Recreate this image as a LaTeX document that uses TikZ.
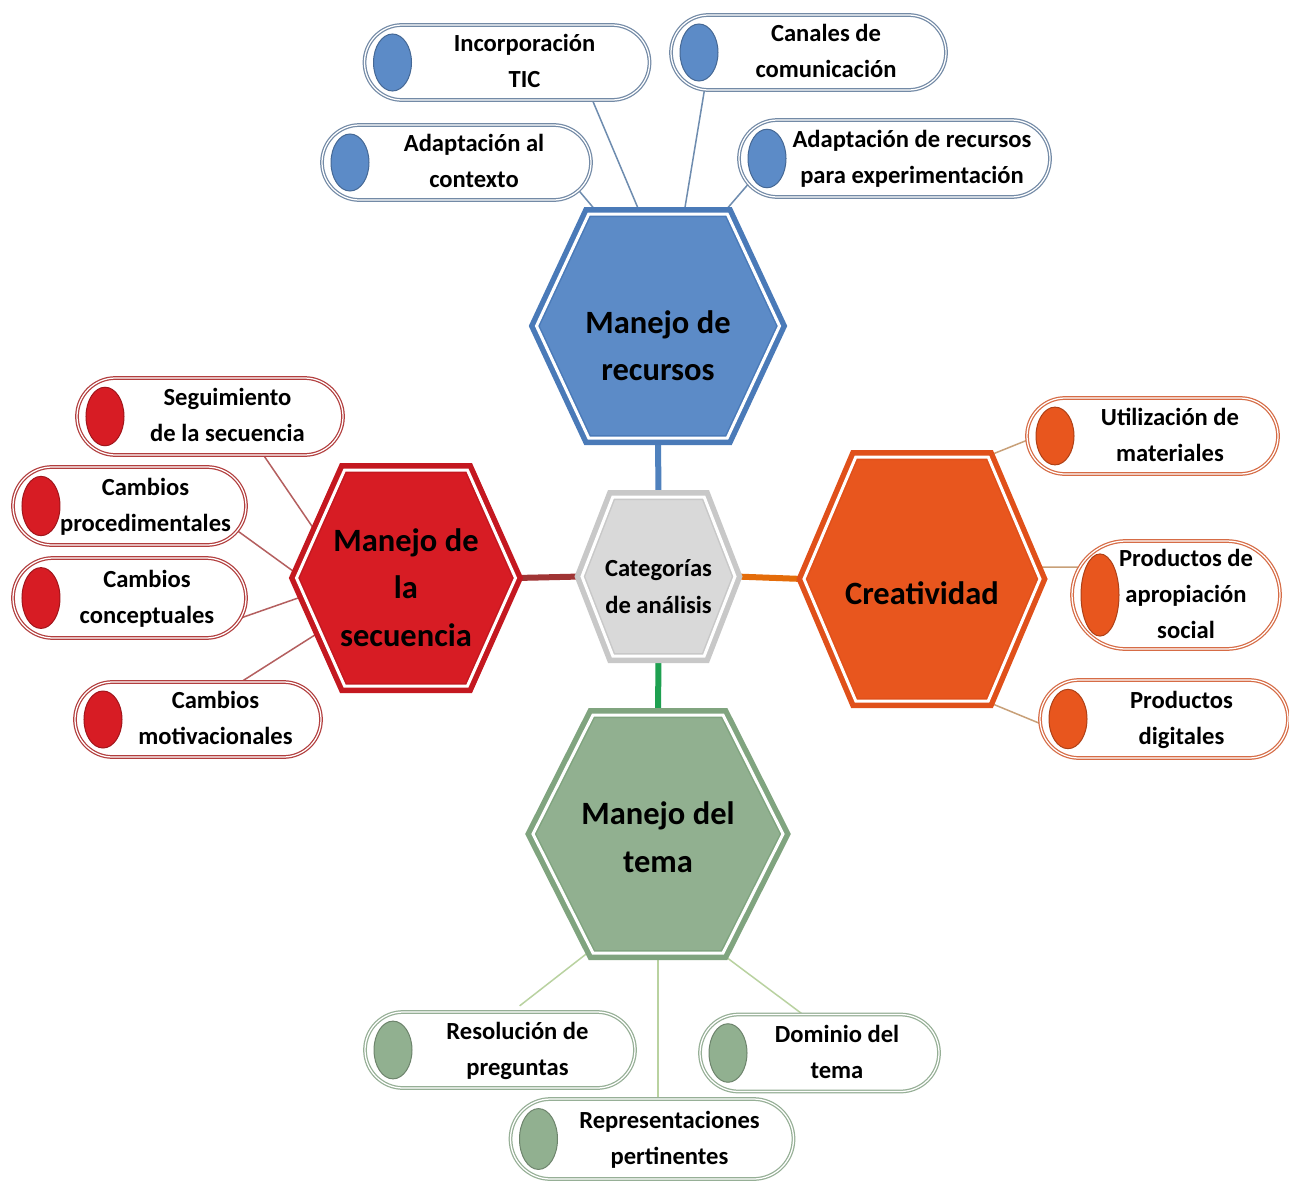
\documentclass[tikz,border=0pt]{standalone}
\usepackage{fontspec}
\setmainfont{Carlito}
\usetikzlibrary{shapes.symbols,shapes.misc,calc,backgrounds}

\definecolor{recfill}{RGB}{92,139,199}
\definecolor{recline}{RGB}{74,122,184}
\definecolor{recpill}{RGB}{115,138,166}
\definecolor{rectwig}{RGB}{110,140,175}
\definecolor{secfill}{RGB}{215,28,36}
\definecolor{secline}{RGB}{196,24,32}
\definecolor{secpill}{RGB}{178,62,62}
\definecolor{sectwig}{RGB}{180,95,95}
\definecolor{crefill}{RGB}{232,86,30}
\definecolor{creline}{RGB}{224,80,26}
\definecolor{crepill}{RGB}{214,108,70}
\definecolor{cretwig}{RGB}{200,160,120}
\definecolor{temfill}{RGB}{145,176,144}
\definecolor{temline}{RGB}{128,164,127}
\definecolor{tempill}{RGB}{150,175,150}
\definecolor{temtwig}{RGB}{185,210,160}
\definecolor{catfill}{RGB}{217,217,217}
\definecolor{catline}{RGB}{200,200,200}
\definecolor{spkblue}{RGB}{79,129,189}
\definecolor{spkred}{RGB}{160,52,52}
\definecolor{spkorange}{RGB}{228,108,10}
\definecolor{spkgreen}{RGB}{30,160,80}

\newcommand{\ptx}[2][7mm]{\makebox[0pt]{\hspace{#1}\begin{tabular}{@{}c@{}}#2\end{tabular}}}
\newcommand{\htx}[2]{\raisebox{#1}[0pt][0pt]{\makebox[0pt]{\begin{tabular}{@{}c@{}}#2\end{tabular}}}}

\begin{document}
\begin{tikzpicture}
[x=0.2mm,y=-0.2mm,
 hexa/.style 2 args={signal,signal to=east and west,fill=#1,draw=#2,line width=0.3mm,
   double=white,double distance=0.6mm,preaction={draw=#2,line width=2.8mm},inner sep=0pt,
   font=\fontsize{18.5}{27}\selectfont\bfseries},
 pill/.style 2 args={rounded rectangle,fill=white,
   draw=#2,line width=0.25mm,double=white,double distance=0.25mm,inner sep=0pt,
   font=\fontsize{14}{20.5}\selectfont\bfseries,
   path picture={\filldraw[fill=#1,draw=#1!75!black,line width=0.2mm]
     let \p1=(path picture bounding box.north),\p2=(path picture bounding box.south) in
     ([xshift=5.6mm]path picture bounding box.west) ellipse [x radius=3.8mm,y radius={0.38*(\y1-\y2)}];}},
 spoke/.style={draw=#1,line width=1.2mm},
 twig/.style={draw=#1,line width=0.3mm}]
\useasboundingbox (0,0) rectangle (1289,1185);
% hexagons
\node[hexa={catfill}{catline},signal pointer angle=137.6,minimum width=30.6mm,minimum height=31.8mm,
      font=\fontsize{14}{21}\selectfont\bfseries] (cat) at (658.5,576.5) {\htx{-3.5mm}{Categorías\\de análisis}};
\node[hexa={recfill}{recline},signal pointer angle=130,minimum width=48.6mm,minimum height=44.8mm]
      (rec) at (658,326) {\htx{-5.8mm}{Manejo de\\recursos}};
\node[hexa={secfill}{secline},signal pointer angle=132,minimum width=43.8mm,minimum height=43.2mm]
      (sec) at (406,578) {\htx{-3.8mm}{Manejo de\\la\\secuencia}};
\node[hexa={crefill}{creline},signal pointer angle=134,minimum width=47.2mm,minimum height=48.8mm]
      (cre) at (922,579) {\htx{-4.8mm}{Creatividad}};
\node[hexa={temfill}{temline},signal pointer angle=126.5,minimum width=50mm,minimum height=47.6mm]
      (tem) at (658,834) {\htx{-2.5mm}{Manejo del\\tema}};
% pills
\node[pill={recfill}{recpill},minimum width=57mm,minimum height=15mm]   (incorp) at (507,62.5)    {\ptx{Incorporación\\TIC}};
\node[pill={recfill}{recpill},minimum width=55mm,minimum height=15mm]   (canal)  at (808.5,52.5)  {\ptx{Canales de\\comunicación}};
\node[pill={recfill}{recpill},minimum width=53.8mm,minimum height=15mm] (ctx)    at (456.5,162.5) {\ptx{Adaptación al\\contexto}};
\node[pill={recfill}{recpill},minimum width=62.2mm,minimum height=15.4mm] (arec) at (894.5,158.5) {\ptx{Adaptación de recursos\\para experimentación}};
\node[pill={secfill}{secpill},minimum width=53.2mm,minimum height=15.4mm] (seg)  at (210,416.5)   {\ptx{Seguimiento\\de la secuencia}};
\node[pill={secfill}{secpill},minimum width=46.6mm,minimum height=15.6mm] (proc) at (129.5,506)   {\ptx[6.4mm]{Cambios\\procedimentales}};
\node[pill={secfill}{secpill},minimum width=46.6mm,minimum height=16mm]   (conc) at (129.5,598)   {\ptx{Cambios\\conceptuales}};
\node[pill={secfill}{secpill},minimum width=49.2mm,minimum height=15mm]   (motiv) at (198,719.5)  {\ptx{Cambios\\motivacionales}};
\node[pill={crefill}{crepill},minimum width=50.2mm,minimum height=15.2mm] (util) at (1152.5,436)  {\ptx{Utilización de\\materiales}};
\node[pill={crefill}{crepill},minimum width=41.6mm,minimum height=20.8mm] (prodap) at (1176,595)  {\ptx[4mm]{Productos de\\apropiación\\social}};
\node[pill={crefill}{crepill},minimum width=49.6mm,minimum height=15.6mm] (proddig) at (1164,719) {\ptx{Productos\\digitales}};
\node[pill={temfill}{tempill},minimum width=54mm,minimum height=15.2mm]   (resol) at (500,1050)   {\ptx{Resolución de\\preguntas}};
\node[pill={temfill}{tempill},minimum width=47.8mm,minimum height=15.4mm] (dominio) at (819.5,1053) {\ptx{Dominio del\\tema}};
\node[pill={temfill}{tempill},minimum width=56.6mm,minimum height=16mm]   (repres) at (652,1139)  {\ptx{Representaciones\\pertinentes}};
% connectors
\begin{scope}[on background layer]
\fill[white] (0,0) rectangle (1289,1185);
\path (rec.south)  edge[spoke=spkblue]   (cat.north)
      (sec.east)   edge[spoke=spkred]    (cat.west)
      (cat.east)   edge[spoke=spkorange] (cre.west)
      (cat.south)  edge[spoke=spkgreen]  (tem.north);
\path (incorp.-24) edge[twig=rectwig] (rec.99)
      (canal.200)  edge[twig=rectwig] (rec.77)
      (ctx.-13)    edge[twig=rectwig] (rec.118)
      (arec.190)   edge[twig=rectwig] (rec.60);
\path (seg.-36)    edge[twig=sectwig] (sec.153)
      (proc.-13)   edge[twig=sectwig] (sec.178)
      (conc.-10)   edge[twig=sectwig] (sec.190)
      (motiv.41)   edge[twig=sectwig] (sec.212);
\path (util.182)   edge[twig=cretwig] (cre.62)
      (prodap.164) edge[twig=cretwig] (cre.6)
      (proddig.182) edge[twig=cretwig] (cre.-62);
\path (resol.72)   edge[twig=temtwig,shorten <=1.8mm] (tem.240)
      (dominio.114) edge[twig=temtwig] (tem.-62)
      (tem.south)  edge[twig=temtwig] (tem.south |- repres.north);
\end{scope}
\end{tikzpicture}
\end{document}
